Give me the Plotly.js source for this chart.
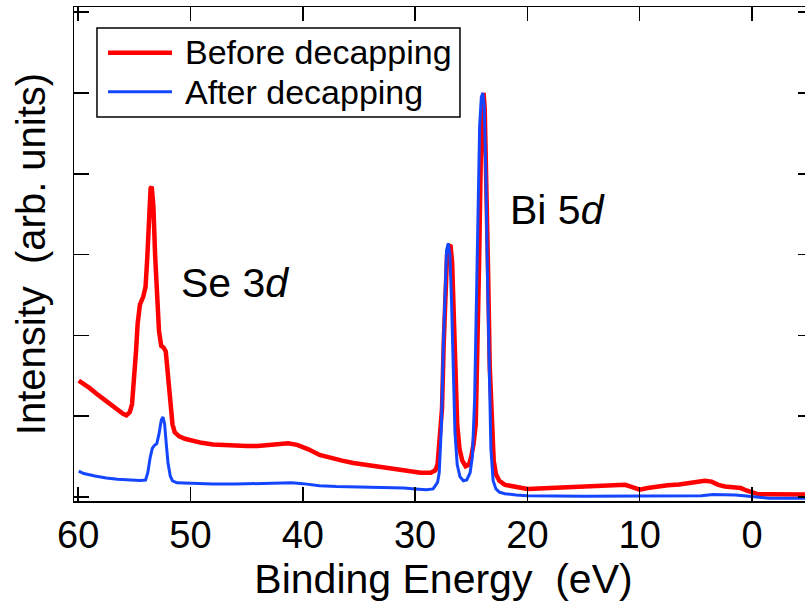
<!DOCTYPE html>
<html>
<head>
<meta charset="utf-8">
<script src="https://cdn.plot.ly/plotly-3.0.1.min.js"></script>
<style>
html, body { margin: 0; padding: 0; overflow: hidden; background: #fff; }
#chart { width: 813px; height: 604px; }
</style>
</head>
<body>
<div id="chart"></div>
<script>
// Binding energy (eV) and intensity (arb. units) — Before decapping
const beforeEnergy = [59.95, 59.7, 59.0, 58.2, 57.4, 56.6, 56.0, 55.7, 55.4, 55.2, 55.0, 54.85, 54.7, 54.5, 54.2, 54.0, 53.85, 53.7, 53.55, 53.45, 53.3, 53.15, 53.0, 52.8, 52.6, 52.4, 52.2, 52.0, 51.8, 51.6, 51.4, 51.0, 50.5, 50.0, 49.0, 48.0, 47.0, 46.0, 45.0, 44.0, 43.0, 42.0, 41.3, 40.5, 39.5, 38.5, 37.5, 36.5, 35.5, 34.5, 33.5, 32.5, 31.5, 30.5, 29.5, 28.6, 28.2, 28.0, 27.8, 27.6, 27.45, 27.3, 27.15, 27.0, 26.85, 26.7, 26.55, 26.4, 26.25, 26.05, 25.8, 25.5, 25.2, 25.0, 24.8, 24.6, 24.45, 24.3, 24.15, 24.0, 23.9, 23.8, 23.65, 23.5, 23.35, 23.2, 23.0, 22.8, 22.5, 22.0, 21.0, 20.0, 19.0, 18.0, 17.0, 16.0, 15.0, 14.0, 13.0, 12.0, 11.3, 10.6, 10.0, 9.3, 8.5, 7.5, 6.5, 5.5, 4.8, 4.2, 3.6, 3.0, 2.4, 1.6, 1.0, 0.5, 0.0, -0.5, -1.5, -3.0, -4.5, -5.5];
const beforeIntensity = [1.44, 1.42, 1.35, 1.26, 1.17, 1.09, 1.03, 1.01, 1.05, 1.15, 1.45, 1.8, 2.15, 2.38, 2.48, 2.6, 2.95, 3.45, 3.82, 3.84, 3.6, 3.0, 2.45, 2.05, 1.87, 1.85, 1.8, 1.5, 1.15, 0.9, 0.8, 0.75, 0.72, 0.70, 0.67, 0.65, 0.64, 0.63, 0.63, 0.63, 0.645, 0.66, 0.665, 0.645, 0.59, 0.52, 0.48, 0.45, 0.42, 0.40, 0.38, 0.36, 0.34, 0.32, 0.30, 0.30, 0.33, 0.4, 0.7, 1.1, 1.9, 2.6, 3.0, 3.1, 3.12, 2.9, 2.2, 1.4, 0.9, 0.6, 0.45, 0.38, 0.4, 0.5, 0.65, 0.9, 1.7, 2.9, 4.2, 4.9, 5.0, 4.8, 4.0, 2.8, 1.6, 0.95, 0.45, 0.28, 0.2, 0.15, 0.12, 0.10, 0.105, 0.11, 0.115, 0.12, 0.125, 0.13, 0.14, 0.15, 0.15, 0.12, 0.09, 0.11, 0.13, 0.145, 0.155, 0.17, 0.19, 0.2, 0.19, 0.15, 0.13, 0.125, 0.11, 0.08, 0.055, 0.035, 0.032, 0.032, 0.03, 0.03];

// After decapping
const afterEnergy = [59.95, 59.5, 58.5, 57.5, 56.5, 55.5, 54.5, 54.0, 53.8, 53.6, 53.4, 53.2, 53.0, 52.8, 52.6, 52.45, 52.3, 52.15, 52.0, 51.8, 51.6, 51.2, 50.5, 49.5, 48.0, 46.0, 44.0, 42.0, 41.0, 40.0, 38.5, 37.0, 35.0, 33.0, 31.0, 30.0, 29.0, 28.4, 28.0, 27.85, 27.65, 27.5, 27.35, 27.2, 27.05, 26.9, 26.75, 26.6, 26.45, 26.25, 26.0, 25.7, 25.4, 25.1, 24.9, 24.7, 24.55, 24.4, 24.25, 24.1, 23.97, 23.85, 23.7, 23.55, 23.4, 23.25, 23.05, 22.8, 22.5, 22.0, 21.0, 20.0, 15.0, 10.0, 6.0, 4.5, 3.5, 2.5, 1.5, 0.5, -0.5, -1.5, -3.0, -5.5];
const afterIntensity = [0.32, 0.29, 0.26, 0.235, 0.22, 0.21, 0.205, 0.21, 0.3, 0.48, 0.6, 0.64, 0.66, 0.78, 0.95, 0.99, 0.9, 0.65, 0.42, 0.26, 0.2, 0.175, 0.17, 0.165, 0.16, 0.16, 0.165, 0.175, 0.175, 0.165, 0.14, 0.13, 0.125, 0.12, 0.11, 0.1, 0.09, 0.1, 0.18, 0.3, 0.9, 1.8, 2.6, 3.05, 3.14, 3.0, 2.4, 1.5, 0.8, 0.4, 0.25, 0.2, 0.21, 0.3, 0.5, 1.2, 2.4, 3.6, 4.6, 4.95, 5.0, 4.85, 4.0, 2.7, 1.4, 0.6, 0.2, 0.1, 0.06, 0.04, 0.025, 0.015, 0.01, 0.01, 0.01, 0.015, 0.03, 0.03, 0.025, 0.012, -0.005, -0.015, -0.015, -0.015];

const seriesNames = ["Before decapping", "After decapping"];
const seriesColors = ["#ff0000", "#1446ff"];
const xTitle = "Binding Energy\u00a0\u00a0(eV)";
const yTitle = "Intensity\u00a0\u00a0(arb. units)";
const peakLabels = ["Se 3<i>d</i>", "Bi 5<i>d</i>"];

const FONT = "Liberation Sans, Arial, Helvetica, sans-serif";

const traces = [
  { x: beforeEnergy, y: beforeIntensity, type: "scatter", mode: "lines", name: seriesNames[0],
    line: { color: seriesColors[0], width: 4.5 }, showlegend: false },
  { x: afterEnergy, y: afterIntensity, type: "scatter", mode: "lines", name: seriesNames[1],
    line: { color: seriesColors[1], width: 3 }, showlegend: false }
];

const layout = {
  width: 813, height: 604,
  margin: { l: 74, r: 0, t: 7, b: 103 },
  paper_bgcolor: "#fff", plot_bgcolor: "#fff",
  font: { family: FONT, color: "#000", size: 38 },
  xaxis: {
    range: [60.37, -5.43], tick0: 0, dtick: 10, ticks: "inside", ticklen: 14, tickwidth: 1.5,
    tickcolor: "#000", showline: true, linecolor: "#000", linewidth: 1.5, mirror: "ticks",
    showgrid: false, zeroline: false, tickfont: { size: 38, family: FONT },
    title: { text: xTitle, font: { size: 41, family: FONT }, standoff: 6 }
  },
  yaxis: {
    range: [-0.05, 6.064], tick0: 0, dtick: 1, ticks: "inside", ticklen: 15, tickwidth: 1.5,
    tickcolor: "#000", showline: true, linecolor: "#000", linewidth: 1.5, mirror: "ticks",
    showgrid: false, zeroline: false, showticklabels: false,
    title: { text: yTitle, font: { size: 40, family: FONT }, standoff: 14 }
  },
  shapes: [
    { type: "rect", xref: "paper", yref: "paper", x0: 0.0311, x1: 0.5223, y0: 0.7773, y1: 0.9575,
      line: { color: "#000", width: 1.5 }, fillcolor: "rgba(255,255,255,1)" },
    { type: "line", xref: "paper", yref: "paper", x0: 0.046, x1: 0.1326, y0: 0.9075, y1: 0.9075,
      line: { color: seriesColors[0], width: 4.5 } },
    { type: "line", xref: "paper", yref: "paper", x0: 0.046, x1: 0.1326, y0: 0.8285, y1: 0.8285,
      line: { color: seriesColors[1], width: 3 } }
  ],
  annotations: [
    { text: seriesNames[0], xref: "paper", yref: "paper", x: 0.1475, y: 0.9089, xanchor: "left", yanchor: "middle",
      showarrow: false, font: { size: 34, family: FONT } },
    { text: seriesNames[1], xref: "paper", yref: "paper", x: 0.1475, y: 0.828, xanchor: "left", yanchor: "middle",
      showarrow: false, font: { size: 34, family: FONT } },
    { text: peakLabels[0], xref: "paper", yref: "paper", x: 0.142, y: 0.441, xanchor: "left", yanchor: "middle",
      showarrow: false, font: { size: 41, family: FONT } },
    { text: peakLabels[1], xref: "paper", yref: "paper", x: 0.5873, y: 0.589, xanchor: "left", yanchor: "middle",
      showarrow: false, font: { size: 41, family: FONT } }
  ]
};

Plotly.newPlot("chart", traces, layout, { staticPlot: true, displayModeBar: false });
</script>
</body>
</html>
